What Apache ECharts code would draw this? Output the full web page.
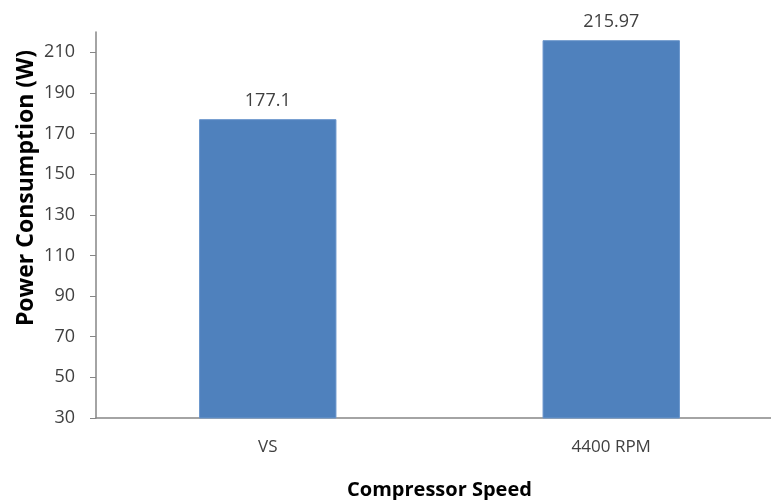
<!DOCTYPE html>
<html>
<head>
<meta charset="utf-8">
<script src="https://cdn.jsdelivr.net/npm/echarts@6/dist/echarts.min.js"></script>
<style>
  html, body { margin: 0; padding: 0; background: #fff; }
  #chart { width: 771px; height: 500px; }
</style>
</head>
<body>
<div id="chart"></div>
<script>
// Power consumption per compressor speed setting
const categories = ['VS', '4400 RPM'];
const powerValues = [177.1, 215.97];
const yTicks = [30, 50, 70, 90, 110, 130, 150, 170, 190, 210];

const labelFont = '"Open Sans", "Liberation Sans", sans-serif';

const chart = echarts.init(document.getElementById('chart'));
chart.setOption({
  animation: false,
  backgroundColor: '#ffffff',
  // plot area runs a little past the right edge of the canvas
  grid: { left: 96, width: 687, top: 32, bottom: 82, outerBoundsMode: 'none', containLabel: false },
  xAxis: {
    type: 'category',
    data: categories,
    name: 'Compressor Speed',
    nameLocation: 'middle',
    nameGap: 62,
    nameTextStyle: { fontFamily: labelFont, fontWeight: 'bold', fontSize: 20, color: '#000' },
    axisLine: { lineStyle: { color: '#868686', width: 1.5 } },
    axisTick: { show: false },
    axisLabel: { margin: 21, fontFamily: labelFont, fontSize: 17, color: '#404040' }
  },
  yAxis: {
    type: 'value',
    min: 30,
    max: 220,
    axisLine: { show: true, lineStyle: { color: '#868686', width: 1.5 } },
    axisTick: { show: true, length: 6, inside: false, customValues: yTicks, lineStyle: { color: '#868686' } },
    axisLabel: { customValues: yTicks, margin: 21, fontFamily: labelFont, fontSize: 18, color: '#404040' },
    splitLine: { show: false }
  },
  graphic: [{
    type: 'text',
    x: 26,
    y: 188,
    rotation: Math.PI / 2,
    style: {
      text: 'Power Consumption (W)',
      fontFamily: labelFont,
      fontWeight: 'bold',
      fontSize: 23,
      fill: '#000',
      align: 'center',
      verticalAlign: 'middle'
    }
  }],
  series: [{
    type: 'bar',
    data: powerValues,
    barWidth: '40%',
    itemStyle: { color: '#4F81BD', borderColor: '#6b96cc', borderWidth: 1 },
    label: {
      show: true,
      position: 'top',
      distance: 9,
      fontFamily: labelFont,
      fontSize: 18,
      color: '#404040'
    }
  }]
});
</script>
</body>
</html>
